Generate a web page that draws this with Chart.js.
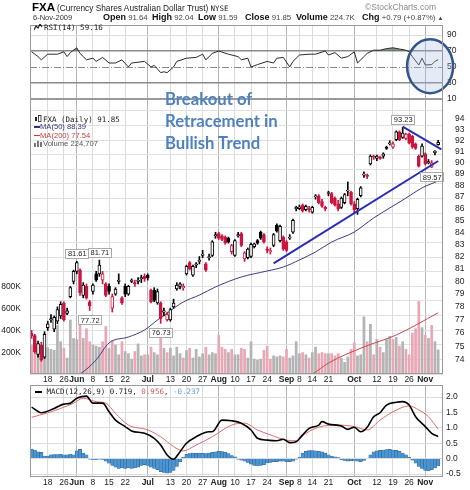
<!DOCTYPE html>
<html>
<head>
<meta charset="utf-8">
<title>FXA daily</title>
<script src="https://cdn.jsdelivr.net/npm/chart.js@4.4.1/dist/chart.umd.min.js"></script>
<style>
  body { margin: 0; width: 470px; height: 490px; position: relative; overflow: hidden; background: #fff; font-family: Arial, "Liberation Sans", sans-serif; }
  canvas { position: absolute; left: 0; top: 0; }
  .t { position: absolute; white-space: nowrap; line-height: 1; color: #222; }
  .m { font-family: "DejaVu Sans Mono", monospace; font-size: 7.5px; }
  .h { font-size: 7.8px; color: #444; }
  .h b { font-size: 9px; color: #111; }
  .note { position: absolute; left: 165px; font: bold 16.7px Lato, sans-serif; color: #4f81bd; line-height: 1; white-space: nowrap; }
  svg { vertical-align: -1px; margin-right: 1px; }
</style>
</head>
<body>
<canvas id="rsiChart" width="470" height="490"></canvas>
<canvas id="priceChart" width="470" height="490"></canvas>
<canvas id="macdChart" width="470" height="490"></canvas>

<div class="t" style="left:32px;top:2px;font-size:11.5px;font-weight:bold;color:#000">FXA</div>
<div class="t" style="left:57px;top:4px;font-size:8.3px">(Currency Shares Australian Dollar Trust) <span class="m">NYSE</span></div>
<div class="t" style="left:365px;top:3px;font-size:8.5px;color:#8a8a8a">©StockCharts.com</div>
<div class="t" style="left:33px;top:13.5px;font-size:7.5px;color:#333">6-Nov-2009</div>
<div class="t h" style="left:103px;top:12.5px"><b>Open</b> 91.64</div>
<div class="t h" style="left:152px;top:12.5px"><b>High</b> 92.04</div>
<div class="t h" style="left:198px;top:12.5px"><b>Low</b> 91.59</div>
<div class="t h" style="left:245px;top:12.5px"><b>Close</b> 91.85</div>
<div class="t h" style="left:296px;top:12.5px"><b>Volume</b> 224.7K</div>
<div class="t h" style="left:362px;top:12.5px"><b>Chg</b> +0.79 (+0.87%) <span style="font-size:6px">▲</span></div>

<div class="t m" style="left:34px;top:24px"><svg width="9" height="7"><polyline points="0,6 2,2 4,4 6,0 8,3" fill="none" stroke="#222" stroke-width="1.2"/></svg>RSI(14) 59.16</div>

<div class="t m" style="left:34px;top:114.5px"><svg width="8" height="8"><rect x="1" y="2" width="2" height="4" fill="#222"/><rect x="4.5" y="0.5" width="2.5" height="6" fill="none" stroke="#222" stroke-width="0.8"/></svg>FXA (Daily) 91.85</div>
<div class="t" style="left:34px;top:123px;font-size:7.6px;color:#33337a"><span style="display:inline-block;width:6px;height:1.5px;background:#33337a;vertical-align:middle"></span>MA(50) 88.39</div>
<div class="t" style="left:34px;top:131.5px;font-size:7.6px;color:#c83c3c"><span style="display:inline-block;width:6px;height:1.5px;background:#c83c3c;vertical-align:middle"></span>MA(200) 77.54</div>
<div class="t" style="left:34px;top:140px;font-size:7.6px;color:#555"><svg width="8" height="7"><rect x="0" y="3" width="2" height="4" fill="#777"/><rect x="3" y="1" width="2" height="6" fill="#777"/><rect x="6" y="2" width="2" height="5" fill="#777"/></svg>Volume 224,707</div>

<div class="t m" style="left:35px;top:388px"><span style="display:inline-block;width:7px;height:1.5px;background:#000;vertical-align:middle"></span> MACD(12,26,9) 0.719, <span style="color:#d05a5a">0.956</span>, <span style="color:#5a9fd4">-0.237</span></div>

<div class="note" style="top:91px">Breakout of</div>
<div class="note" style="top:113px">Retracement in</div>
<div class="note" style="top:135px">Bullish Trend</div>

<script>
// trading calendar
const firstDay = '2009-05-11';
const lastDay = '2009-11-06';
const holidays = ['2009-05-25', '2009-07-03', '2009-09-07'];

// date labels under the price and MACD panels
const tickLabels = [
  ['2009-05-18', '18'], ['2009-05-26', '26'], ['2009-06-01', 'Jun'], ['2009-06-08', '8'],
  ['2009-06-15', '15'], ['2009-06-22', '22'], ['2009-07-01', 'Jul'], ['2009-07-13', '13'],
  ['2009-07-20', '20'], ['2009-07-27', '27'], ['2009-08-03', 'Aug'], ['2009-08-10', '10'],
  ['2009-08-17', '17'], ['2009-08-24', '24'], ['2009-09-01', 'Sep'], ['2009-09-08', '8'],
  ['2009-09-14', '14'], ['2009-09-21', '21'], ['2009-10-01', 'Oct'], ['2009-10-12', '12'],
  ['2009-10-19', '19'], ['2009-10-26', '26'], ['2009-11-02', 'Nov']
];
const monthNames = ['Jun', 'Jul', 'Aug', 'Sep', 'Oct', 'Nov'];

// daily prices
const open = [
  76.0, 75.8, 74.4, 75.1, 74.2, 76.4, 77.0, 76.3, 76.9, 77.3,
  78.3, 77.5, 78.8, 80.0, 80.8, 80.9, 78.9, 79.6, 78.4, 79.2,
  80.6, 80.6, 80.1, 79.8, 79.6, 77.9, 79.0, 80.0, 78.7, 79.6,
  79.0, 80.0, 79.9, 80.0, 80.2, 80.4, 80.5, 79.3, 79.3, 78.3,
  78.3, 77.6, 77.0, 77.0, 78.0, 79.4, 79.6, 79.5, 80.6, 81.5,
  80.5, 81.3, 81.6, 82.1, 81.4, 81.9, 82.1, 83.7, 83.9, 83.7,
  83.6, 83.5, 82.4, 82.1, 83.7, 83.9, 81.8, 81.9, 82.0, 82.8,
  83.3, 84.0, 83.8, 82.6, 82.4, 82.9, 84.6, 83.3, 83.6, 83.2,
  83.5, 84.0, 86.0, 86.0, 86.3, 85.9, 86.0, 85.7, 87.0, 87.1,
  86.6, 86.1, 87.3, 87.3, 86.9, 86.4, 86.1, 86.5, 87.5, 87.4,
  86.4, 86.0, 87.1, 88.9, 88.9, 89.9, 90.6, 90.4, 90.5, 90.6,
  91.4, 91.7, 91.4, 92.1, 92.8, 92.3, 92.2, 92.6, 92.4, 91.7,
  90.6, 90.6, 90.8, 90.0, 89.6, 90.9, 91.64
];
const high = [
  76.2, 75.9, 75.4, 75.3, 76.1, 76.9, 77.4, 77.3, 78.0, 78.4,
  78.4, 77.9, 79.6, 80.9, 81.61, 81.0, 79.9, 79.8, 78.5, 79.8,
  80.8, 81.71, 80.8, 79.9, 79.8, 79.0, 79.5, 80.6, 78.8, 79.8,
  79.7, 80.2, 80.1, 80.3, 80.5, 80.6, 80.6, 79.4, 79.5, 79.4,
  78.4, 77.9, 77.6, 77.9, 78.6, 79.9, 79.9, 79.8, 81.3, 81.6,
  81.3, 81.5, 82.0, 82.5, 81.5, 82.2, 83.3, 84.0, 84.0, 83.8,
  83.7, 83.6, 83.0, 83.4, 84.0, 84.0, 82.4, 82.7, 83.1, 83.1,
  83.4, 84.1, 83.9, 82.8, 82.7, 83.9, 84.7, 84.6, 83.7, 83.3,
  83.8, 85.1, 86.2, 86.3, 86.4, 86.3, 86.2, 86.2, 87.2, 87.2,
  86.8, 86.2, 87.5, 87.4, 87.0, 86.7, 87.0, 87.3, 88.3, 87.5,
  86.6, 86.9, 87.9, 89.2, 89.0, 90.7, 90.7, 90.7, 90.6, 90.9,
  91.5, 92.0, 91.9, 92.9, 92.9, 93.23, 92.7, 92.7, 92.5, 91.8,
  90.7, 91.7, 90.9, 90.3, 90.2, 91.1, 92.04
];
const low = [
  75.6, 74.5, 74.2, 73.9, 74.1, 76.2, 76.8, 76.1, 76.7, 77.1,
  76.9, 77.4, 78.7, 79.8, 80.6, 78.9, 78.7, 78.6, 77.72, 79.0,
  80.0, 80.4, 79.8, 78.8, 79.0, 77.6, 78.9, 79.8, 78.2, 78.8,
  78.9, 79.9, 79.6, 79.8, 79.9, 80.0, 80.1, 78.3, 78.4, 78.2,
  76.73, 77.3, 76.9, 76.9, 77.9, 79.3, 79.4, 79.3, 80.5, 80.9,
  80.4, 81.1, 81.4, 81.9, 80.8, 81.7, 82.0, 83.5, 83.4, 83.3,
  83.0, 83.1, 82.2, 82.0, 83.6, 82.8, 81.6, 81.8, 81.9, 82.7,
  83.0, 83.4, 83.1, 82.3, 82.2, 82.8, 84.0, 83.2, 82.5, 82.4,
  83.4, 83.9, 85.8, 85.9, 85.7, 85.8, 85.7, 85.6, 86.8, 86.4,
  86.1, 85.8, 87.1, 86.4, 86.2, 85.8, 86.0, 86.4, 87.1, 86.3,
  85.6, 85.5, 87.0, 88.7, 88.6, 89.8, 90.3, 90.2, 90.3, 90.4,
  91.2, 91.6, 91.3, 92.0, 92.0, 92.2, 92.1, 91.7, 91.3, 91.2,
  89.62, 90.5, 89.8, 89.9, 89.57, 90.7, 91.59
];
const close = [
  75.8, 74.6, 75.2, 74.0, 75.9, 76.7, 77.1, 77.2, 77.8, 78.2,
  77.0, 77.7, 79.5, 80.8, 81.5, 79.1, 79.7, 78.7, 78.1, 79.7,
  80.1, 81.3, 80.6, 78.9, 79.2, 78.8, 79.4, 80.1, 78.3, 79.0,
  79.6, 80.1, 79.8, 80.1, 80.3, 80.2, 80.3, 78.4, 78.5, 79.2,
  77.1, 77.7, 77.4, 77.8, 78.3, 79.7, 79.8, 79.6, 81.2, 81.0,
  81.2, 81.4, 81.7, 82.2, 80.9, 82.0, 83.2, 83.8, 83.5, 83.4,
  83.1, 83.2, 82.9, 83.3, 83.8, 82.9, 82.3, 82.6, 83.0, 83.05,
  83.1, 83.5, 83.2, 82.5, 82.45, 83.8, 84.1, 84.5, 82.6, 82.5,
  83.6, 85.0, 86.1, 86.15, 85.8, 86.2, 85.9, 86.1, 87.05, 86.5,
  86.2, 86.0, 87.35, 86.5, 86.3, 86.0, 86.9, 87.2, 87.6, 86.4,
  85.9, 86.8, 87.8, 89.0, 88.8, 90.6, 90.5, 90.6, 90.4, 90.8,
  91.3, 91.8, 91.7, 92.8, 92.1, 92.7, 92.6, 91.8, 91.4, 91.3,
  89.7, 91.5, 89.9, 90.1, 90.0, 91.06, 91.85
];
// daily volume, thousands of shares
const volume = [
  270, 240, 250, 180, 260, 245, 230, 220, 450, 300,
  240, 150, 500, 330, 320, 470, 330, 420, 300, 270,
  260, 250, 300, 440, 240, 310, 270, 180, 300, 210,
  190, 140, 210, 280, 170, 180, 180, 250, 200, 180,
  420, 240, 200, 240, 170, 250, 190, 150, 220, 240,
  150, 230, 160, 190, 250, 180, 200, 190, 360, 250,
  230, 200, 230, 180, 180, 240, 230, 150, 300, 140,
  130, 140, 220, 260, 140, 170, 160, 170, 160, 230,
  150, 170, 300, 190, 200, 180, 150, 200, 250, 190,
  200, 190, 190, 190, 170, 190, 150, 110, 160, 230,
  290, 170, 180, 530, 300, 460, 180, 320, 250, 200,
  320, 350, 320, 340, 260, 300, 230, 180, 380, 420,
  670, 430, 360, 330, 450, 300, 225
];

// moving averages read at [trading day, value]
const ma50Points = [
  [10, 72.5], [15, 72.97], [20, 74.0], [24, 75.26], [30, 75.7], [35, 76.23], [39, 76.99],
  [42, 77.52], [47, 78.38], [52, 78.92], [57, 79.56], [65, 80.35], [73, 80.83], [78, 81.15],
  [83, 81.72], [88, 82.37], [93, 83.19], [100, 84.02], [106, 85.2], [111, 86.05],
  [116, 86.9], [121, 87.78], [126, 88.39]
];
const ma200Points = [[84, 72.7], [87, 72.97], [92, 73.77], [103, 74.96], [113, 75.85], [126, 77.54]];

// hand-drawn trend lines [trading day, price]
const trendLower = [[75, 81.44], [126, 90.16]];
const trendUpper = [[115, 93.3], [127, 91.2]];

// high / low callouts [trading day, kind]
const priceMarkers = [[14, 'high'], [18, 'low'], [21, 'high'], [40, 'low'], [115, 'high'], [124, 'low']];

// RSI(14) read at [trading day, value]
const rsiPoints = [
  [0, 69], [2, 63], [3, 59], [5, 66], [8, 66], [10, 69], [11, 63], [12, 68], [14, 74], [15, 67],
  [16, 63], [17, 59], [19, 61], [20, 57], [22, 62], [24, 55], [26, 55], [28, 59], [30, 50], [31, 55],
  [35, 57], [37, 50], [38, 52], [40, 43], [41, 44], [42, 43], [44, 50], [45, 57], [48, 61], [51, 62],
  [53, 66], [54, 59], [56, 67], [58, 70], [61, 66], [64, 63], [65, 59], [67, 61], [68, 50], [70, 53],
  [73, 57], [75, 55], [76, 61], [78, 62], [80, 50], [81, 57], [83, 65], [86, 66], [88, 66], [91, 70],
  [92, 65], [94, 68], [96, 61], [98, 63], [100, 69], [101, 55], [103, 63], [104, 67], [106, 71], [108, 71],
  [110, 73], [112, 74], [114, 72.5], [116, 71], [117, 69], [118, 63], [120, 52.5], [121, 61], [122, 52.5],
  [124, 53], [125, 57], [126, 59.16]
];
const rsiTicks = [90, 70, 50, 30, 10];
const circleAt = { day: 123.5, rsi: 51 };

// MACD(12,26,9) read at [trading day, value]
const macdPoints = [
  [0, 1.67], [3, 1.49], [7, 1.63], [10, 1.77], [12, 1.80], [14, 1.96], [17, 2.03], [19, 1.80], [22, 1.80],
  [24, 1.52], [26, 1.25], [29, 1.04], [31, 0.90], [35, 0.82], [38, 0.66], [40, 0.44], [42, 0.12], [44, -0.02],
  [45, 0.08], [48, 0.50], [51, 0.71], [55, 0.87], [56, 0.87], [59, 1.25], [62, 1.23], [65, 1.15], [68, 0.93],
  [70, 0.66], [73, 0.60], [76, 0.58], [78, 0.63], [80, 0.52], [82, 0.55], [84, 0.77], [86, 0.98], [89, 1.09],
  [90, 1.20], [92, 1.12], [96, 1.06], [98, 0.95], [100, 1.02], [102, 0.87], [104, 1.02], [106, 1.36],
  [108, 1.49], [110, 1.74], [113, 1.83], [115, 1.85], [117, 1.74], [119, 1.36], [122, 1.04], [124, 0.82],
  [126, 0.719]
];
const signalPoints = [
  [0, 1.34], [5, 1.49], [9, 1.63], [13, 1.80], [16, 1.96], [20, 1.85], [23, 1.80], [26, 1.47], [30, 1.09],
  [36, 0.93], [40, 0.71], [44, 0.39], [47, 0.25], [51, 0.44], [56, 0.71], [62, 1.09], [66, 1.15], [70, 0.93],
  [74, 0.77], [79, 0.60], [82, 0.58], [85, 0.82], [89, 1.02], [95, 1.09], [100, 1.04], [104, 0.93],
  [108, 1.25], [112, 1.52], [117, 1.71], [120, 1.58], [123, 1.36], [126, 0.956]
];
const histogram = [
  0.30, 0.28, 0.22, 0.20, 0.08, 0.08, 0.12, 0.13, 0.13, 0.14,
  0.12, 0.12, 0.15, 0.12, 0.25, 0.30, 0.18, 0.12, -0.02, -0.03,
  -0.03, -0.02, -0.03, -0.08, -0.15, -0.22, -0.28, -0.32, -0.30, -0.32,
  -0.30, -0.32, -0.30, -0.28, -0.22, -0.20, -0.22, -0.28, -0.32, -0.36,
  -0.42, -0.45, -0.47, -0.45, -0.38, -0.25, -0.10, 0.05, 0.14, 0.16,
  0.18, 0.17, 0.18, 0.17, 0.16, 0.18, 0.20, 0.22, 0.24, 0.23,
  0.20, 0.16, 0.10, 0.06, -0.02, -0.05, -0.08, -0.12, -0.18, -0.22,
  -0.24, -0.22, -0.20, -0.14, -0.12, -0.10, -0.10, -0.08, -0.08, -0.10,
  -0.10, -0.08, -0.02, 0.05, 0.18, 0.24, 0.26, 0.26, 0.25, 0.24,
  0.22, 0.18, 0.12, 0.08, 0.06, 0.03, -0.04, -0.06, -0.08, -0.07,
  -0.06, -0.08, -0.10, -0.06, 0.00, 0.12, 0.22, 0.25, 0.27, 0.28,
  0.29, 0.30, 0.28, 0.27, 0.24, 0.18, 0.12, 0.05, -0.05, -0.15,
  -0.25, -0.32, -0.38, -0.40, -0.36, -0.30, -0.237
];
const macdTicks = [2.0, 1.5, 1.0, 0.5, 0.0, -0.5];

const priceTicks = [74, 75, 76, 77, 78, 79, 80, 81, 82, 83, 84, 85, 86, 87, 88, 89, 90, 91, 92, 93, 94];
const volumeTicks = [200, 400, 600, 800];

// ---------------------------------------------------------------

const F = 'Arial, "Liberation Sans", sans-serif';

const dates = [];
for (let d = new Date(firstDay + 'T12:00:00Z'); d <= new Date(lastDay + 'T12:00:00Z'); d.setUTCDate(d.getUTCDate() + 1)) {
  const s = d.toISOString().slice(0, 10);
  const wd = d.getUTCDay();
  if (wd === 0 || wd === 6 || holidays.includes(s)) continue;
  dates.push(s);
}
// one empty slot at the right edge
const labels = dates.concat(['']);

const labelAt = {};
tickLabels.forEach(([d, t]) => { labelAt[dates.indexOf(d)] = t; });

function sparse(points) {
  const arr = new Array(labels.length).fill(null);
  points.forEach(([i, v]) => { arr[i] = v; });
  return arr;
}

const upColor = close.map((c, i) => c >= (i ? close[i - 1] : open[i]));
const candleColor = upColor.map(up => up ? '#000000' : '#cc1540');
const bodyFill = close.map((c, i) => c >= open[i] ? '#ffffff' : candleColor[i]);
const volColor = upColor.map(up => up ? '#b4b4b4' : '#e9a8b5');

function xAxis(showLabels, height) {
  return {
    type: 'category',
    offset: true,
    grid: {
      offset: false,
      drawTicks: false,
      color: c => {
        const t = labelAt[c.index];
        if (t === undefined) return 'rgba(0,0,0,0)';
        return monthNames.includes(t) ? '#b5b5b5' : '#dcdcdc';
      }
    },
    border: { display: false },
    ticks: {
      display: showLabels,
      autoSkip: false,
      maxRotation: 0,
      padding: 1,
      color: '#222',
      font: c => ({ family: F, size: 8.5, weight: monthNames.includes(labelAt[c.index]) ? 'bold' : 'normal' }),
      callback: (v, i) => labelAt[i] || ''
    },
    afterFit: s => { s.height = height; }
  };
}

const frame = {
  id: 'frame',
  afterDraw(chart) {
    const { ctx, chartArea: a } = chart;
    ctx.save();
    ctx.strokeStyle = '#9a9a9a';
    ctx.lineWidth = 1;
    ctx.strokeRect(Math.round(a.left) + 0.5, Math.round(a.top) + 0.5, Math.round(a.width) - 1, Math.round(a.height) - 1);
    ctx.restore();
  }
};

const rsiExtras = {
  id: 'rsiExtras',
  beforeDatasetsDraw(chart) {
    const { ctx, chartArea: a, scales: { y } } = chart;
    const py = Math.round(y.getPixelForValue(50)) + 0.5;
    ctx.save();
    ctx.strokeStyle = '#8a8a8a';
    ctx.lineWidth = 1;
    ctx.setLineDash([7, 2, 1, 2]);
    ctx.beginPath();
    ctx.moveTo(a.left, py);
    ctx.lineTo(a.right, py);
    ctx.stroke();
    ctx.restore();
  },
  afterDraw(chart) {
    const { ctx, scales: { x, y } } = chart;
    const cx = x.getPixelForValue(circleAt.day);
    const cy = y.getPixelForValue(circleAt.rsi);
    ctx.save();
    ctx.beginPath();
    ctx.ellipse(cx, cy, 23, 27, 0, 0, Math.PI * 2);
    ctx.fillStyle = 'rgba(165,188,225,0.3)';
    ctx.fill();
    ctx.lineWidth = 2.5;
    ctx.strokeStyle = '#34558a';
    ctx.stroke();
    ctx.restore();
  }
};

const markerLabels = {
  id: 'markerLabels',
  afterDatasetsDraw(chart) {
    const { ctx, scales: { x, y } } = chart;
    ctx.save();
    ctx.font = '7.5px ' + F;
    ctx.textAlign = 'center';
    ctx.textBaseline = 'middle';
    priceMarkers.forEach(([i, kind]) => {
      const v = kind === 'high' ? high[i] : low[i];
      const px = x.getPixelForValue(i);
      const py = y.getPixelForValue(v) + (kind === 'high' ? -8 : 9);
      const txt = v.toFixed(2);
      const w = Math.round(ctx.measureText(txt).width + 4);
      const bx = Math.round(px - w / 2);
      const by = Math.round(py - 4.5);
      ctx.fillStyle = '#ffffff';
      ctx.fillRect(bx, by, w, 9);
      ctx.strokeStyle = '#aaaaaa';
      ctx.lineWidth = 1;
      ctx.strokeRect(bx + 0.5, by + 0.5, w, 9);
      ctx.fillStyle = '#222';
      ctx.fillText(txt, px + 0.5, py + 1);
    });
    ctx.restore();
  }
};

function baseOptions(padding) {
  return {
    responsive: false,
    animation: false,
    events: [],
    devicePixelRatio: 1,
    layout: { padding },
    plugins: { legend: { display: false }, tooltip: { enabled: false } }
  };
}

// RSI panel
new Chart(document.getElementById('rsiChart'), {
  type: 'line',
  data: {
    labels,
    datasets: [{
      data: sparse(rsiPoints),
      spanGaps: true,
      borderColor: '#2a2a2a',
      borderWidth: 1,
      pointRadius: 0,
      tension: 0,
      fill: { target: { value: 70 }, above: 'rgba(95,115,95,0.75)', below: 'rgba(0,0,0,0)' }
    }]
  },
  options: Object.assign(baseOptions({ top: 25, left: 30, right: 0, bottom: 391 }), {
    scales: {
      x: xAxis(false, 0),
      y: {
        position: 'right',
        min: 10, max: 102.5, bounds: 'data',
        border: { display: false },
        grid: {
          drawTicks: false,
          color: c => (c.tick.value === 70 || c.tick.value === 30) ? '#8a8a8a' : (c.tick.value === 50 ? 'rgba(0,0,0,0)' : '#dcdcdc'),
          lineWidth: c => (c.tick.value === 70 || c.tick.value === 30) ? 1.6 : 1
        },
        ticks: { padding: 4, color: '#222', font: { family: F, size: 8.5 } },
        afterBuildTicks: s => { s.ticks = rsiTicks.map(v => ({ value: v })); },
        afterFit: s => { s.width = 27; }
      }
    }
  }),
  plugins: [rsiExtras, frame]
});

// price + volume panel
new Chart(document.getElementById('priceChart'), {
  type: 'bar',
  data: {
    labels,
    datasets: [
      { type: 'line', data: sparse(trendUpper), spanGaps: true, borderColor: '#2b2bb5', borderWidth: 2, pointRadius: 0, yAxisID: 'y', order: 0 },
      { type: 'line', data: sparse(trendLower), spanGaps: true, borderColor: '#2b2bb5', borderWidth: 2, pointRadius: 0, yAxisID: 'y', order: 0 },
      {
        data: open.map((o, i) => [o, close[i]]),
        backgroundColor: bodyFill, borderColor: candleColor, borderWidth: 1, borderSkipped: false,
        barThickness: 3, minBarLength: 1, grouped: false, yAxisID: 'y', order: 1
      },
      {
        data: low.map((l, i) => [l, high[i]]),
        backgroundColor: candleColor, barThickness: 1, grouped: false, yAxisID: 'y', order: 2
      },
      { type: 'line', data: sparse(ma50Points), spanGaps: true, cubicInterpolationMode: 'monotone', borderColor: '#3c3c8a', borderWidth: 1, pointRadius: 0, yAxisID: 'y', order: 3 },
      { type: 'line', data: sparse(ma200Points), spanGaps: true, cubicInterpolationMode: 'monotone', borderColor: '#cc4848', borderWidth: 1, pointRadius: 0, yAxisID: 'y', order: 3 },
      {
        data: volume, backgroundColor: volColor, barPercentage: 0.85, categoryPercentage: 1,
        grouped: false, yAxisID: 'vol', order: 10
      }
    ]
  },
  options: Object.assign(baseOptions({ top: 99, left: 0, right: 0, bottom: 102 }), {
    scales: {
      x: xAxis(true, 14),
      y: {
        type: 'logarithmic',
        position: 'right',
        min: 72.97, max: 95.886, bounds: 'data',
        grid: { display: false },
        border: { display: false },
        ticks: { padding: 4, color: '#222', font: { family: F, size: 8.5 }, callback: v => String(v) },
        afterBuildTicks: s => { s.ticks = priceTicks.map(v => ({ value: v })); },
        afterFit: s => { s.width = 27; }
      },
      g: {
        type: 'linear',
        position: 'right',
        min: -0.41, max: 18.4, bounds: 'data',
        grid: { color: '#e0e0e0', drawTicks: false },
        border: { display: false },
        ticks: { display: false, stepSize: 1 },
        afterFit: s => { s.width = 0; }
      },
      vol: {
        type: 'linear',
        position: 'left',
        min: 0, max: 2530, bounds: 'data',
        grid: { display: false },
        border: { display: false },
        ticks: { padding: 1, color: '#222', font: { family: F, size: 8.5 }, callback: v => v + 'K' },
        afterBuildTicks: s => { s.ticks = volumeTicks.map(v => ({ value: v })); },
        afterFit: s => { s.width = 30; }
      }
    }
  }),
  plugins: [markerLabels, frame]
});

// MACD panel
new Chart(document.getElementById('macdChart'), {
  type: 'bar',
  data: {
    labels,
    datasets: [
      { type: 'line', data: sparse(macdPoints), spanGaps: true, cubicInterpolationMode: 'monotone', borderColor: '#000000', borderWidth: 1.6, pointRadius: 0, order: 0 },
      { type: 'line', data: sparse(signalPoints), spanGaps: true, cubicInterpolationMode: 'monotone', borderColor: '#e06a6a', borderWidth: 1, pointRadius: 0, order: 1 },
      {
        data: histogram, backgroundColor: '#4b96d2', borderColor: '#2c5f8e', borderWidth: 0.5,
        barPercentage: 1, categoryPercentage: 1, grouped: false, order: 2
      }
    ]
  },
  options: Object.assign(baseOptions({ top: 385, left: 30, right: 0, bottom: 0 }), {
    scales: {
      x: xAxis(true, 13),
      y: {
        position: 'right',
        min: -0.597, max: 2.39, bounds: 'data',
        border: { display: false },
        grid: { drawTicks: false, color: '#dcdcdc' },
        ticks: { padding: 3, color: '#222', font: { family: F, size: 8.5 }, callback: v => v.toFixed(1) },
        afterBuildTicks: s => { s.ticks = macdTicks.map(v => ({ value: v })); },
        afterFit: s => { s.width = 27; }
      }
    }
  }),
  plugins: [frame]
});
</script>
</body>
</html>
